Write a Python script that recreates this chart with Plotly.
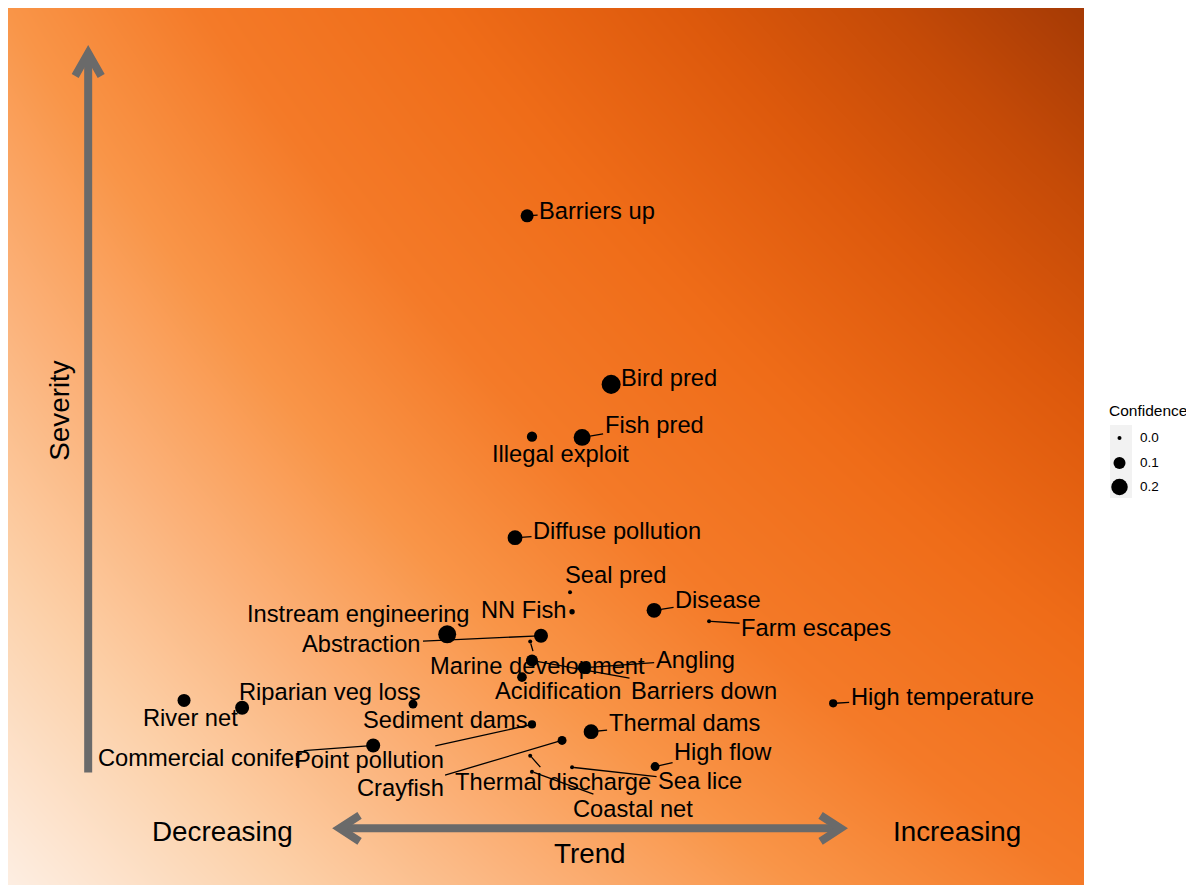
import numpy as np
import plotly.graph_objects as go

# ---------------- data ----------------
threats = ["Barriers up", "Bird pred", "Fish pred", "Illegal exploit", "Diffuse pollution",
           "Seal pred", "NN Fish", "Disease", "Farm escapes", "Instream engineering",
           "Abstraction", "Marine development", "Barriers down", "Angling", "Acidification",
           "River net", "Riparian veg loss", "Sediment dams", "Commercial conifer",
           "Point pollution", "Crayfish", "Thermal dams", "Thermal discharge", "Coastal net",
           "Sea lice", "High flow", "High temperature"]
trend = [-0.245, 0.082, -0.031, -0.226, -0.292,
         -0.078, -0.070, 0.249, 0.463, -0.556,
         -0.191, -0.233, -0.226, -0.023, -0.265,
         -1.580, -1.354, -0.689, -0.844,
         -0.226, -0.109, 0.004, -0.233, -0.226,
         -0.070, 0.253, 0.946]
severity = [0.766, 0.534, 0.461, 0.462, 0.323,
            0.248, 0.221, 0.223, 0.208, 0.190,
            0.188, 0.180, 0.154, 0.144, 0.131,
            0.099, 0.089, 0.094, 0.037,
            0.066, 0.044, 0.056, 0.023, 0.001,
            0.007, 0.008, 0.095]
confidence = [0.12, 0.27, 0.21, 0.07, 0.16,
              0.0, 0.01, 0.16, 0.0, 0.24,
              0.14, 0.0, 0.10, 0.11, 0.06,
              0.12, 0.14, 0.05, 0.14,
              0.04, 0.05, 0.16, 0.0, 0.0,
              0.0, 0.05, 0.04]
legend_levels = [0.0, 0.1, 0.2]
legend_labels = ["0.0", "0.1", "0.2"]

# ---------------- label placement (pixel offsets, style only) ----------------
label_offsets = {
    "Barriers up": (70, -5, True), "Bird pred": (58, -6, False), "Fish pred": (72, -12, True),
    "Illegal exploit": (29, 17, False), "Diffuse pollution": (102, -7, True),
    "Seal pred": (45, -17, False), "NN Fish": (-48, -2, False), "Disease": (64, -10, True),
    "Farm escapes": (107, 7, True), "Instream engineering": (-89, -20, False),
    "Abstraction": (-179, 8, True), "Marine development": (7, 24, True),
    "Barriers down": (172, 31, True), "Angling": (111, -8, True),
    "Acidification": (36, 14, False), "River net": (6, 18, False),
    "Riparian veg loss": (88, -16, False), "Sediment dams": (32, 16, False),
    "Commercial conifer": (-173, 13, True), "Point pollution": (-162, 36, True),
    "Crayfish": (-162, 48, True), "Thermal dams": (93, -9, True),
    "Thermal discharge": (23, 26, True), "Coastal net": (101, 37, True),
    "Sea lice": (128, 14, True), "High flow": (68, -15, True),
    "High temperature": (109, -6, True),
}

def msize(c):
    return float(np.sqrt(16 + 1280 * c))

W, H = 1186, 877          # page adds an 8px body margin
PANEL_W = 1076
XR = [-2.265, 1.922]
YR = [-0.155, 1.052]
FONT = "Liberation Sans, Arial, sans-serif"
GREY = "#6a6a6a"

fig = go.Figure()

# background gradient (decorative)
n = 60
u = np.linspace(0, 1, n)
v = np.linspace(0, 1, n)
U, V = np.meshgrid(u, v)
Z = 0.45 * U + 0.33 * V + 0.22 * U * V
fig.add_trace(go.Heatmap(
    x=np.linspace(XR[0], XR[1], n), y=np.linspace(YR[0], YR[1], n), z=Z,
    zmin=0, zmax=1, zsmooth="best", showscale=False, hoverinfo="skip",
    colorscale=[[0.0, "#FDEEE2"], [0.12, "#FCD0A8"], [0.22, "#FBB27A"],
                [0.33, "#F99548"], [0.45, "#F47A28"], [0.6, "#EF6C18"],
                [0.75, "#DD590C"], [0.88, "#C44A07"], [1.0, "#A53A05"]],
    showlegend=False))

# points
fig.add_trace(go.Scatter(
    x=trend, y=severity, mode="markers",
    marker=dict(color="black", opacity=1, size=[msize(c) for c in confidence], line=dict(width=0)),
    showlegend=False, hoverinfo="text", text=threats))

# legend (drawn on a small side axis, px units)
leg_y = [35, 60, 84]
fig.add_trace(go.Scatter(
    x=[12.5] * len(legend_levels), y=leg_y, xaxis="x2", yaxis="y2", mode="markers",
    marker=dict(color="black", opacity=1, size=[msize(c) for c in legend_levels], line=dict(width=0)),
    showlegend=False, hoverinfo="skip"))

annotations = []
for name, xx, yy in zip(threats, trend, severity):
    dx, dy, seg = label_offsets[name]
    annotations.append(dict(
        x=xx, y=yy, xref="x", yref="y", text=name, showarrow=True,
        ax=dx, ay=dy, arrowhead=0, arrowwidth=1.3,
        arrowcolor="black" if seg else "rgba(0,0,0,0)", standoff=2,
        font=dict(family=FONT, size=23.7, color="black")))

# axis captions
for txt, xx, yy, ang in [("Decreasing", -1.432, -0.081, 0), ("Increasing", 1.428, -0.081, 0),
                         ("Trend", 0.0, -0.111, 0), ("Severity", -2.066, 0.498, -90)]:
    annotations.append(dict(x=xx, y=yy, xref="x", yref="y", text=txt, showarrow=False,
                            textangle=ang, font=dict(family=FONT, size=27.8, color="black")))

annotations.append(dict(x=0, y=8, xref="x2", yref="y2", text="Confidence", showarrow=False,
                        xanchor="left", yanchor="middle",
                        font=dict(family=FONT, size=15.5, color="black")))
for lab, yy in zip(legend_labels, leg_y):
    annotations.append(dict(x=31, y=yy, xref="x2", yref="y2", text=lab, showarrow=False,
                            xanchor="left", yanchor="middle",
                            font=dict(family=FONT, size=13.5, color="black")))

shapes = []
# vertical arrow
vx = -1.953
tip = 0.990
shapes.append(dict(type="line", xref="x", yref="y", x0=vx, y0=0.0, x1=vx, y1=tip - 0.004,
                   line=dict(color=GREY, width=8)))
shapes.append(dict(type="path", xref="x", yref="y",
                   path=f"M {vx-0.0506} {tip-0.0316} L {vx} {tip} L {vx+0.0506} {tip-0.0316}",
                   line=dict(color=GREY, width=8)))
# horizontal double arrow
hy = -0.077
ht = 0.975
shapes.append(dict(type="line", xref="x", yref="y", x0=-ht + 0.01, y0=hy, x1=ht - 0.01, y1=hy,
                   line=dict(color=GREY, width=8)))
for sgn in (-1, 1):
    shapes.append(dict(type="path", xref="x", yref="y",
                       path=f"M {sgn*(ht-0.078)} {hy+0.0179} L {sgn*ht} {hy} L {sgn*(ht-0.078)} {hy-0.0179}",
                       line=dict(color=GREY, width=8)))
# legend key background
shapes.append(dict(type="rect", xref="x2", yref="y2", x0=3, x1=25, y0=22, y1=95,
                   fillcolor="#F2F2F2", line=dict(width=0), layer="below"))

# side axis region (fig px 1099..1186 wide, 395..505 tall)
x2d = [1099 / W, 1.0]
y2d = [1 - 505 / H, 1 - 395 / H]

fig.update_layout(
    width=W, height=H, margin=dict(l=0, r=0, t=0, b=0),
    paper_bgcolor="white", plot_bgcolor="white",
    xaxis=dict(range=XR, visible=False, fixedrange=True, domain=[0, PANEL_W / W]),
    yaxis=dict(range=YR, visible=False, fixedrange=True, domain=[0, 1]),
    xaxis2=dict(range=[0, 87], visible=False, fixedrange=True, domain=x2d, anchor="y2"),
    yaxis2=dict(range=[110, 0], visible=False, fixedrange=True, domain=y2d, anchor="x2"),
    shapes=shapes, annotations=annotations,
    showlegend=False,
    font=dict(family=FONT),
    hovermode=False,
)

fig.write_html("out.html")
